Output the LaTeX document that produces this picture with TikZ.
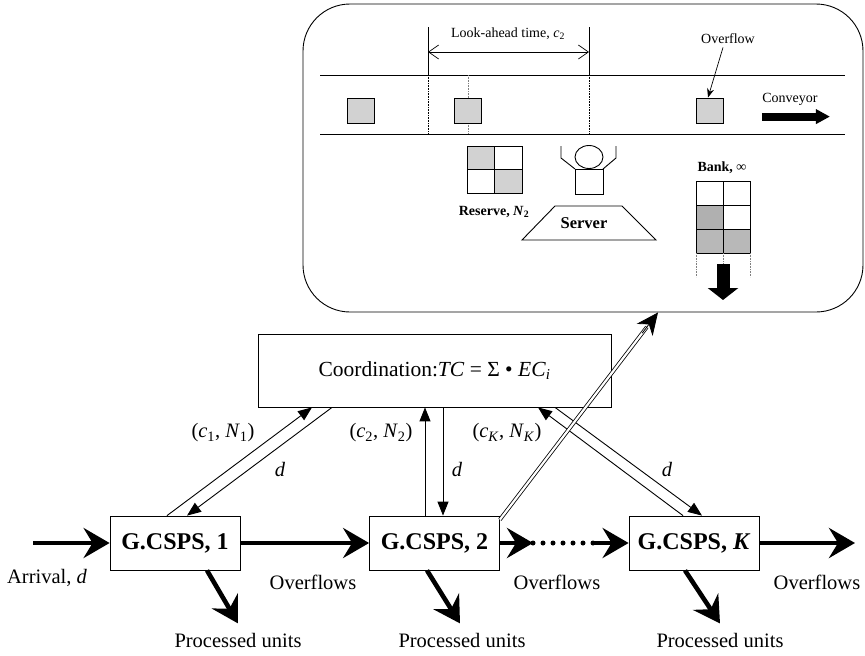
\documentclass[tikz,border=0pt]{standalone}
\usepackage{fontspec}
\setmainfont{Liberation Serif}
\usetikzlibrary{arrows.meta,calc}
\colorlet{unit}{gray!35}
\colorlet{banked}{gray!62}

\tikzset{
	gcsps/.style={draw, line width=0.8pt, minimum width=130pt, minimum height=54pt, inner sep=0pt, font=\fontsize{24}{26}\selectfont\bfseries},
	flow/.style={line width=4.6pt, -{Stealth[length=26pt, width=30pt, inset=9pt]}},
	signal/.style={line width=0.9pt, -{Triangle[length=14pt, width=11pt]}},
	txt/.style={font=\fontsize{20.5}{23}\selectfont, inner sep=0pt},
	small/.style={font=\fontsize{14}{16}\selectfont, inner sep=0pt},
	smallbf/.style={font=\fontsize{14}{16}\selectfont\bfseries, inner sep=0pt},
	unitbox/.style={draw, line width=0.9pt, fill=unit, minimum width=27pt, minimum height=25pt, inner sep=0pt},
}

\begin{document}
\begin{tikzpicture}[x=1pt, y=-1pt, line width=0.9pt]
	\useasboundingbox (0,0) rectangle (865,656);

	% the station: conveyor, reserve, server and bank
	\node[draw, rounded corners=47pt, minimum width=560pt, minimum height=308pt] (plant) at (583,158) {};

	\draw (320,75) -- (845,75);
	\draw (320,134) -- (845,134);

	\draw (428,27) -- (428,75);
	\draw (589,27) -- (589,75);
	\draw[densely dotted, line width=0.6pt] (428,75) -- (428,134);
	\draw[densely dotted, line width=0.6pt] (589,75) -- (589,134);
	\draw[line width=0.7pt, {Straight Barb[length=10pt, width=14pt]}-{Straight Barb[length=10pt, width=14pt]}] (428,52) -- (589,52);
	\node[small] (lookahead) at (508,34) {Look-ahead time, \textit{c}\textsubscript{2}};

	\draw[densely dotted, gray, line width=0.6pt] (468,75) -- (468,134);
	\node[unitbox] (u1) at (360.5,110.5) {};
	\node[unitbox] (u2) at (468,110.5) {};
	\node[unitbox] (u3) at (710,110.5) {};

	\node[small] (overflow) at (728,39) {Overflow};
	\draw[line width=0.7pt, -{Stealth[length=9pt, width=7pt]}] ([xshift=-5pt,yshift=-3pt]overflow.south) -- ([xshift=-2pt]u3.north);

	\node[small] (conveyor) at (790,99) {Conveyor};
	\draw[line width=8pt, -{Triangle[length=14pt, width=14pt]}] ([yshift=-11pt]conveyor.south west) -- ++(68,0);

	% reserve
	\fill[unit] (467,146) rectangle (494.5,169.5);
	\fill[unit] (494.5,169.5) rectangle (522,193);
	\draw (467,146) rectangle (522,193);
	\draw (494.5,146) -- (494.5,193) (467,169.5) -- (522,169.5);
	\node[smallbf] (reserve) at (494,212) {Reserve, \textit{N}\textsubscript{2}};

	% server
	\draw (589,157) ellipse [x radius=14pt, y radius=11.5pt];
	\draw (575,169) rectangle (603,194);
	\draw (561,146) -- (561,158) -- (575,169);
	\draw (616,146) -- (616,158) -- (603,169);
	\draw (555,206) -- (622,206) -- (656,240) -- (522,240) -- cycle;
	\node[font=\fontsize{16.5}{18}\selectfont\bfseries] (server) at (584,223) {Server};

	% bank
	\node[smallbf] (bank) at (722,168) {Bank, ∞};
	\fill[banked] (696,205) rectangle (723,229);
	\fill[banked!90] (696,229) rectangle (750,253);
	\draw (696,181) rectangle (750,253);
	\draw (723,181) -- (723,253);
	\foreach \y in {205,229}
		\draw (696,\y) -- (750,\y);
	\foreach \x in {696,723,750}
		\draw[densely dotted, gray, line width=0.6pt] (\x,253) -- (\x,277);
	\draw[line width=13pt, -{Triangle[length=12pt, width=30pt]}] (723,264) -- (723,300);

	% coordination and the chain of stations
	\node[draw, line width=0.8pt, minimum width=353pt, minimum height=73pt, font=\fontsize{21.5}{24}\selectfont] (coord) at (434.5,370.5) {Coordination:\textit{TC} = Σ • \textit{EC}\textsubscript{\textit{i}}};

	\node[gcsps] (g1) at (175,543) {G.CSPS, 1};
	\node[gcsps] (g2) at (434.5,543) {G.CSPS, 2};
	\node[gcsps] (gK) at (694,543) {G.CSPS, \textit{K}};

	\coordinate (arrival) at (33,543);
	\coordinate (dotsL) at (533,543);
	\coordinate (dotsR) at (593,543);
	\coordinate (exit) at (855,543);

	\draw[flow] (arrival) -- (g1.west);
	\draw[flow] (g1) -- (g2);
	\draw[flow] (g2.east) -- (dotsL);
	\draw[line width=5pt, line cap=round, dash pattern=on 0pt off 10pt] (dotsL) -- (dotsR);
	\draw[flow] (dotsR) -- (gK.west);
	\draw[flow] (gK.east) -- (exit);

	\node[txt] (arrlbl) at (47,578) {Arrival, \textit{d}};
	\node[txt] (ovf1) at (313,582) {Overflows};
	\node[txt] (ovf2) at (557,582) {Overflows};
	\node[txt] (ovf3) at (817,582) {Overflows};

	\draw[flow] ([xshift=32pt]g1.south) -- ++(31,53);
	\draw[flow] ([xshift=-7.5pt]g2.south) -- ++(33,53);
	\draw[flow] ([xshift=-9pt]gK.south) -- ++(35,53);
	\node[txt] (p1) at (238,640) {Processed units};
	\node[txt] (p2) at (462,640) {Processed units};
	\node[txt] (pK) at (720,640) {Processed units};

	% look-ahead settings up, demand down
	\draw[signal] ([xshift=-8pt]g1.north) -- ([xshift=-122.5pt]coord.south);
	\draw[signal] ([xshift=-102.5pt]coord.south) -- ([xshift=12pt]g1.north);
	\draw[signal] ([xshift=-9.5pt]g2.north) -- ([xshift=-9.5pt]coord.south);
	\draw[signal] ([xshift=8.5pt]coord.south) -- ([xshift=8.5pt]g2.north);
	\draw[signal] ([xshift=-11pt]gK.north) -- ([xshift=103.5pt]coord.south);
	\draw[signal] ([xshift=120.5pt]coord.south) -- ([xshift=8pt]gK.north);

	\node[txt] (s1) at (223,433) {(\textit{c}\textsubscript{1}, \textit{N}\textsubscript{1})};
	\node[txt] (d1) at (280,469) {\textit{d}};
	\node[txt] (s2) at (381,433) {(\textit{c}\textsubscript{2}, \textit{N}\textsubscript{2})};
	\node[txt] (d2) at (457,469) {\textit{d}};
	\node[txt] (sK) at (507,433) {(\textit{c}\textsubscript{\textit{K}}, \textit{N}\textsubscript{\textit{K}})};
	\node[txt] (dK) at (667,469) {\textit{d}};

	% zoom into station 2: double shaft, solid head
	\coordinate (zoomS) at ([yshift=-4pt]g2.north east);
	\coordinate (zoomE) at ([xshift=75pt]plant.south);
	\draw[line width=0.8pt, double, double distance=2.2pt] (zoomS) -- ($(zoomS)!0.93!(zoomE)$);
	\draw[line width=0.8pt, -{Stealth[length=22pt, width=20pt, inset=7pt]}] ($(zoomS)!0.9!(zoomE)$) -- (zoomE);
\end{tikzpicture}
\end{document}
